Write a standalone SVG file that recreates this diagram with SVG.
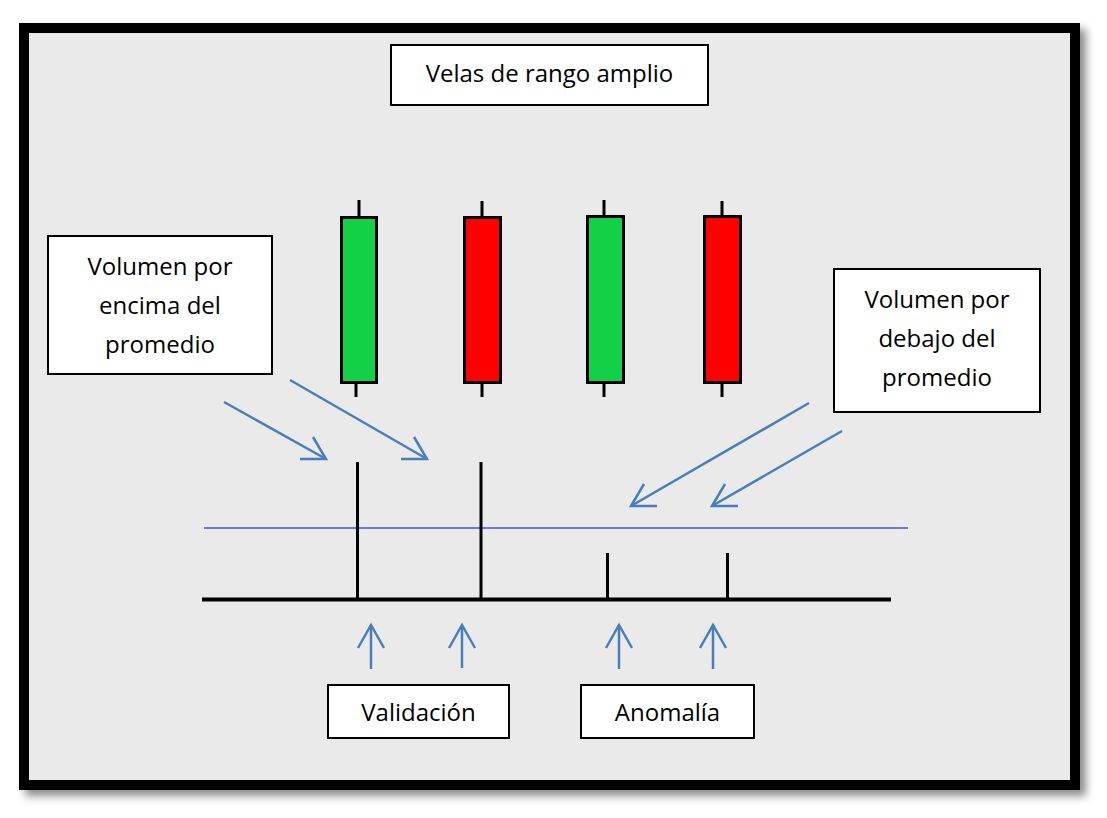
<svg xmlns="http://www.w3.org/2000/svg" width="1107" height="818" viewBox="0 0 1107 818">
<defs>
<filter id="sh" x="-5%" y="-5%" width="115%" height="115%">
<feDropShadow dx="6" dy="6" stdDeviation="4" flood-color="#000" flood-opacity="0.45"/>
</filter>
<style>
.box{fill:#fff;stroke:#000;stroke-width:2}
.t{font-family:"Open Sans","Noto Sans",sans-serif;font-size:24px;fill:#000;text-anchor:middle}
.wick{stroke:#000;stroke-width:3}
.body{stroke:#000;stroke-width:3}
.vol{stroke:#000;stroke-width:3}
.arr{fill:none;stroke:#4a7ebb;stroke-width:2.5;stroke-linecap:butt;stroke-linejoin:miter}
</style>
</defs>
<rect x="0" y="0" width="1107" height="818" fill="#fff"/>
<rect x="24" y="28" width="1051" height="757" fill="#eaeaea" stroke="#000" stroke-width="10" filter="url(#sh)"/>

<g id="title"><rect class="box" x="391" y="45" width="317" height="60"/><text class="t" x="549.5" y="82">Velas de rango amplio</text></g>

<g id="candle1"><line class="wick" x1="359" y1="200" x2="359" y2="217"/><line class="wick" x1="356" y1="383" x2="356" y2="397"/><rect class="body" x="341.5" y="217.5" width="35" height="165" fill="#12d146"/></g>
<g id="candle2"><line class="wick" x1="482" y1="201" x2="482" y2="217"/><line class="wick" x1="482" y1="383" x2="482" y2="397"/><rect class="body" x="464.5" y="217.5" width="36" height="165" fill="#ff0000"/></g>
<g id="candle3"><line class="wick" x1="604" y1="200" x2="604" y2="216"/><line class="wick" x1="604" y1="383" x2="604" y2="397"/><rect class="body" x="587.5" y="216.5" width="36" height="166" fill="#12d146"/></g>
<g id="candle4"><line class="wick" x1="722" y1="201" x2="722" y2="216"/><line class="wick" x1="722" y1="383" x2="722" y2="397"/><rect class="body" x="704.5" y="216.5" width="36" height="166" fill="#ff0000"/></g>

<g id="volume">
<line x1="204" y1="528" x2="908" y2="528" stroke="#4b4bdc" stroke-width="1.5"/>
<line x1="202" y1="599.5" x2="891" y2="599.5" stroke="#000" stroke-width="4"/>
<line class="vol" x1="357.5" y1="462" x2="357.5" y2="599"/>
<line class="vol" x1="481" y1="462" x2="481" y2="599"/>
<line class="vol" x1="607.5" y1="553" x2="607.5" y2="599"/>
<line class="vol" x1="727.5" y1="553" x2="727.5" y2="599"/>
</g>

<g id="above"><rect class="box" x="48" y="236" width="224" height="138"/><text class="t" x="160" y="275">Volumen por</text><text class="t" x="160" y="314">encima del</text><text class="t" x="160" y="353">promedio</text></g>
<g id="below"><rect class="box" x="834" y="269" width="206" height="143"/><text class="t" x="937" y="308">Volumen por</text><text class="t" x="937" y="347">debajo del</text><text class="t" x="937" y="386">promedio</text></g>
<g id="validacion"><rect class="box" x="328" y="685" width="181" height="53"/><text class="t" x="418.5" y="721">Validación</text></g>
<g id="anomalia"><rect class="box" x="581" y="685" width="173" height="53"/><text class="t" x="667.5" y="721">Anomalía</text></g>

<g id="connectors">
<line class="arr" x1="224" y1="402" x2="326" y2="459"/><polyline class="arr" points="300,459 326,459 313,437"/>
<line class="arr" x1="290" y1="380" x2="427" y2="459"/><polyline class="arr" points="401,459 427,459 414,437"/>
<line class="arr" x1="809" y1="403" x2="631" y2="506"/><polyline class="arr" points="644,484 631,506 657,506"/>
<line class="arr" x1="842" y1="431" x2="712" y2="506"/><polyline class="arr" points="725,484 712,506 738,506"/>
<line class="arr" x1="371" y1="669" x2="371" y2="625"/><polyline class="arr" points="358,648 371,625 384,648"/>
<line class="arr" x1="462" y1="668" x2="462" y2="625"/><polyline class="arr" points="449,648 462,625 475,648"/>
<line class="arr" x1="619" y1="669" x2="619" y2="625"/><polyline class="arr" points="606,648 619,625 632,648"/>
<line class="arr" x1="713" y1="669" x2="713" y2="625"/><polyline class="arr" points="700,648 713,625 726,648"/>
</g>
</svg>
